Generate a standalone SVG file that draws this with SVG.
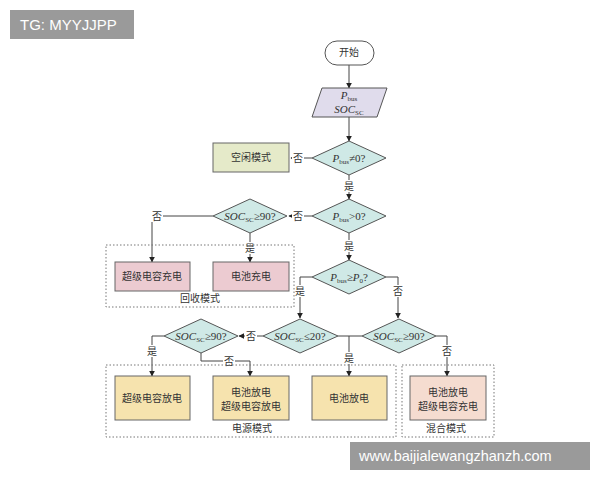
<svg xmlns="http://www.w3.org/2000/svg" width="600" height="480" viewBox="0 0 600 480">
<defs>
<marker id="ar" viewBox="0 0 10 10" refX="9" refY="5" markerWidth="6" markerHeight="6" orient="auto"><path d="M0,0L10,5L0,10z" fill="#222"/></marker>
<style>
.ln{fill:none;stroke:#444;stroke-width:1;marker-end:url(#ar)}
.pl{fill:none;stroke:#444;stroke-width:1}
.d{fill:#cfe9e6;stroke:#555;stroke-width:1}
.y{fill:#f6e3ae;stroke:#666;stroke-width:1}
.p{fill:#eccbd1;stroke:#666;stroke-width:1}
.t{font-family:"Noto Sans CJK SC","Liberation Serif",serif;font-size:10px;fill:#333;text-anchor:middle}
.m{font-family:"Liberation Serif",serif;font-style:italic;font-size:11px;fill:#333;text-anchor:middle}
.s{font-size:7px;font-style:normal}
.n{font-style:normal}
.box{fill:none;stroke:#777;stroke-dasharray:1.5 2}
</style>
</defs>
<rect width="600" height="480" fill="#fff"/>
<g id="connectors">
<path class="ln" d="M349,64V88"/>
<path class="ln" d="M349,117V141"/>
<path class="ln" d="M312,158H291"/>
<path class="ln" d="M349,175V199"/>
<path class="ln" d="M312,216H289"/>
<path class="ln" d="M213,216H152V262"/>
<path class="ln" d="M250,233V262"/>
<path class="ln" d="M349,233V260"/>
<path class="ln" d="M312,277H300V318"/>
<path class="ln" d="M386,277H398V318"/>
<path class="ln" d="M263,336H239"/>
<path class="ln" d="M164,336H152V376"/>
<path class="ln" d="M201,353V361H250V376"/>
<path class="pl" d="M338,336H362"/>
<path class="ln" d="M349,336V376"/>
<path class="ln" d="M436,336H447V376"/>
</g>
<g class="t" font-size="10">
<rect x="292" y="152" width="12" height="12" fill="#fff"/><text x="298" y="162" class="t">否</text>
<rect x="343" y="180" width="12" height="12" fill="#fff"/><text x="349" y="190" class="t">是</text>
<rect x="292" y="210" width="12" height="12" fill="#fff"/><text x="298" y="220" class="t">否</text>
<rect x="151" y="210" width="12" height="12" fill="#fff"/><text x="157" y="220" class="t">否</text>
<rect x="244" y="242" width="12" height="12" fill="#fff"/><text x="250" y="252" class="t">是</text>
<rect x="343" y="240" width="12" height="12" fill="#fff"/><text x="349" y="250" class="t">是</text>
<rect x="294" y="285" width="12" height="12" fill="#fff"/><text x="300" y="295" class="t">是</text>
<rect x="392" y="285" width="12" height="12" fill="#fff"/><text x="398" y="295" class="t">否</text>
<rect x="245" y="330" width="12" height="12" fill="#fff"/><text x="251" y="340" class="t">否</text>
<rect x="146" y="345" width="12" height="12" fill="#fff"/><text x="152" y="355" class="t">是</text>
<rect x="223" y="355" width="12" height="12" fill="#fff"/><text x="229" y="365" class="t">否</text>
<rect x="343" y="352" width="12" height="12" fill="#fff"/><text x="349" y="362" class="t">是</text>
<rect x="441" y="345" width="12" height="12" fill="#fff"/><text x="447" y="355" class="t">否</text>
</g>
<g id="start"><rect x="325" y="41" width="49" height="24" rx="12" fill="#fff" stroke="#555"/><text x="349" y="56" class="t">开始</text></g>
<g id="input"><path d="M322,88H387L377,117H312Z" fill="#e0dcec" stroke="#555"/>
<text x="349" y="99" class="m">P<tspan class="s" dy="1.5">bus</tspan></text>
<text x="349" y="113" class="m">SOC<tspan class="s" dy="1.5">SC</tspan></text></g>
<g id="d1"><path class="d" d="M312,158L349,141L386,158L349,175Z"/><text x="349" y="162" class="m">P<tspan class="s" dy="2">bus</tspan><tspan dy="-2" class="n">≠0?</tspan></text></g>
<g id="idle"><rect x="213" y="143" width="76" height="29" fill="#e5eac9" stroke="#666"/><text x="251" y="161" class="t">空闲模式</text></g>
<g id="d2"><path class="d" d="M312,216L349,199L386,216L349,233Z"/><text x="349" y="220" class="m">P<tspan class="s" dy="2">bus</tspan><tspan dy="-2" class="n">&gt;0?</tspan></text></g>
<g id="d3"><path class="d" d="M213,216L250,199L287,216L250,233Z"/><text x="250" y="220" class="m">SOC<tspan class="s" dy="2">SC</tspan><tspan dy="-2" class="n">≥90?</tspan></text></g>
<g id="regen"><rect class="box" x="106" y="245" width="188" height="62"/><text x="200" y="302" class="t">回收模式</text>
<rect class="p" x="115" y="262" width="75" height="29"/><text x="152" y="280" class="t">超级电容充电</text>
<rect class="p" x="213" y="262" width="76" height="29"/><text x="251" y="280" class="t">电池充电</text></g>
<g id="d4"><path class="d" d="M312,277L349,260L386,277L349,294Z"/><text x="349" y="281" class="m">P<tspan class="s" dy="2">bus</tspan><tspan dy="-2" class="n">≥</tspan><tspan>P</tspan><tspan class="s" dy="2">0</tspan><tspan dy="-2" class="n">?</tspan></text></g>
<g id="d5"><path class="d" d="M263,336L300,319L338,336L300,353Z"/><text x="300" y="340" class="m">SOC<tspan class="s" dy="2">SC</tspan><tspan dy="-2" class="n">≤20?</tspan></text></g>
<g id="d6"><path class="d" d="M362,336L399,319L436,336L399,353Z"/><text x="399" y="340" class="m">SOC<tspan class="s" dy="2">SC</tspan><tspan dy="-2" class="n">≥90?</tspan></text></g>
<g id="d7"><path class="d" d="M164,336L201,319L238,336L201,353Z"/><text x="201" y="340" class="m">SOC<tspan class="s" dy="2">SC</tspan><tspan dy="-2" class="n">≥90?</tspan></text></g>
<g id="power"><rect class="box" x="106" y="365" width="290" height="72"/><text x="252" y="432" class="t">电源模式</text>
<rect class="y" x="115" y="376" width="75" height="44"/><text x="152" y="402" class="t">超级电容放电</text>
<rect class="y" x="213" y="376" width="76" height="44"/><text x="251" y="396" class="t">电池放电</text><text x="251" y="410" class="t">超级电容放电</text>
<rect class="y" x="312" y="376" width="75" height="44"/><text x="349" y="402" class="t">电池放电</text></g>
<g id="mixed"><rect class="box" x="402" y="365" width="92" height="72"/><text x="446" y="432" class="t">混合模式</text>
<rect x="410" y="376" width="76" height="44" fill="#f5dcd0" stroke="#666"/><text x="448" y="396" class="t">电池放电</text><text x="448" y="410" class="t">超级电容充电</text></g>
<g id="wm1"><rect x="10" y="10" width="124" height="29" fill="#9a9a9a"/><text x="20" y="30" font-family="Liberation Sans,sans-serif" font-size="15" fill="#fff">TG: MYYJJPP</text></g>
<g id="wm2"><rect x="350" y="442" width="240" height="28" fill="#9a9a9a"/><text x="359" y="461" font-family="Liberation Sans,sans-serif" font-size="14.5" fill="#fff">www.baijialewangzhanzh.com</text></g>
</svg>
